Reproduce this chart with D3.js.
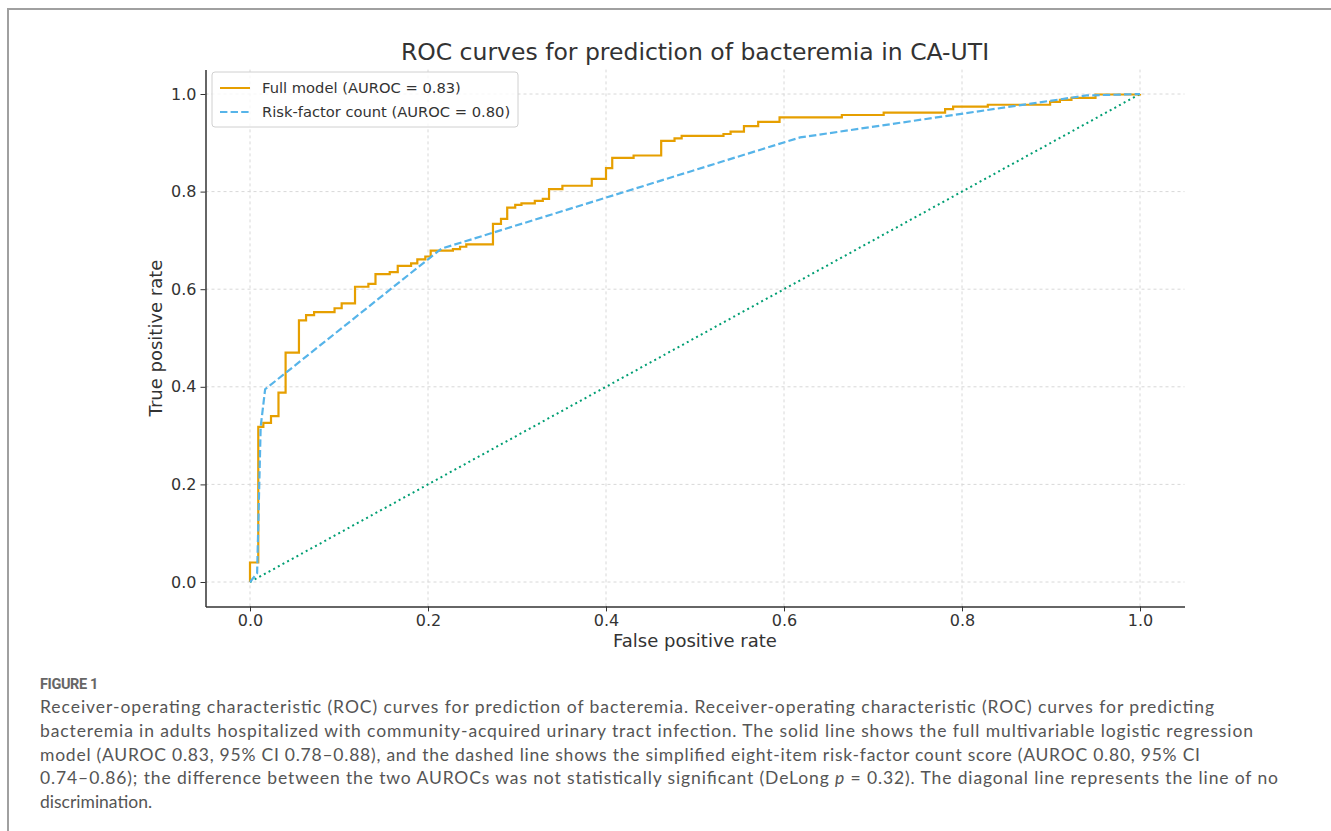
<!DOCTYPE html>
<html>
<head>
<meta charset="utf-8">
<script src="https://cdn.jsdelivr.net/npm/d3@7"></script>
<style>
  body { margin: 0; background: #fff; }
  svg { display: block; }
  .tick text { font-family: "DejaVu Sans", sans-serif; font-size: 16px; fill: #333; }
</style>
</head>
<body>
<svg id="chart"></svg>
<script>
// full model ROC: x where the curve rises, and tpr after the rise
let fullFpr = [0, 0, 0.0093, 0.015, 0.0236, 0.032, 0.040, 0.055, 0.063, 0.072, 0.095, 0.103, 0.118, 0.133, 0.141, 0.157, 0.166, 0.181, 0.188, 0.197, 0.203, 0.228, 0.236, 0.243, 0.273, 0.282, 0.289, 0.298, 0.305, 0.320, 0.329, 0.336, 0.351, 0.384, 0.400, 0.407, 0.431, 0.462, 0.477, 0.485, 0.532, 0.540, 0.555, 0.571, 0.595, 0.665, 0.712, 0.781, 0.790, 0.829, 0.899, 0.910, 0.923, 0.950, 1.0]
let fullTpr = [0, 0.040, 0.318, 0.326, 0.340, 0.388, 0.470, 0.536, 0.547, 0.553, 0.561, 0.571, 0.605, 0.611, 0.631, 0.635, 0.648, 0.653, 0.661, 0.667, 0.679, 0.682, 0.687, 0.692, 0.734, 0.744, 0.767, 0.773, 0.776, 0.781, 0.785, 0.805, 0.812, 0.826, 0.848, 0.869, 0.874, 0.904, 0.909, 0.914, 0.918, 0.923, 0.934, 0.943, 0.952, 0.957, 0.962, 0.969, 0.974, 0.978, 0.984, 0.988, 0.992, 0.999, 1.0]

// risk-factor count ROC points
let riskFpr = [0, 0.008, 0.012, 0.017, 0.215, 0.618, 0.94, 1.0]
let riskTpr = [0, 0.018, 0.318, 0.395, 0.683, 0.911, 0.997, 1.0]

let chanceLine = [0, 1]
let ticks = [0, 0.2, 0.4, 0.6, 0.8, 1.0]

let legendLabels = ["Full model (AUROC = 0.83)", "Risk-factor count (AUROC = 0.80)"]

let captionLines = [
    "Receiver-operating characteristic (ROC) curves for prediction of bacteremia. Receiver-operating characteristic (ROC) curves for predicting",
    "bacteremia in adults hospitalized with community-acquired urinary tract infection. The solid line shows the full multivariable logistic regression",
    "model (AUROC 0.83, 95% CI 0.78\u20130.88), and the dashed line shows the simplified eight-item risk-factor count score (AUROC 0.80, 95% CI",
    "0.74\u20130.86); the difference between the two AUROCs was not statistically significant (DeLong |p| = 0.32). The diagonal line represents the line of no",
    "discrimination."
]
let captionEnds = [1214, 1253, 1200, 1278, null]

let W = 1331, H = 831
let svg = d3.select("#chart").attr("width", W).attr("height", H)

// figure frame (only top + left visible)
svg.append("rect")
    .attr("x", 8).attr("y", 9)
    .attr("width", W + 20).attr("height", H + 20)
    .attr("fill", "none")
    .attr("stroke", "#a0a0a0")
    .attr("stroke-width", 2)

let xScale = d3.scaleLinear().domain([-0.05, 1.05]).range([205.5, 1184.5])
let yScale = d3.scaleLinear().domain([-0.05, 1.05]).range([606.4, 69.6])

// grid
let grid = svg.append("g")
grid.selectAll(".gx").data(ticks).enter().append("line")
    .attr("x1", d => xScale(d)).attr("x2", d => xScale(d))
    .attr("y1", yScale.range()[0]).attr("y2", yScale.range()[1])
    .attr("stroke", "#d8d8d8").attr("stroke-width", 1).attr("stroke-dasharray", "3,3")
grid.selectAll(".gy").data(ticks).enter().append("line")
    .attr("y1", d => yScale(d)).attr("y2", d => yScale(d))
    .attr("x1", xScale.range()[0]).attr("x2", xScale.range()[1])
    .attr("stroke", "#d8d8d8").attr("stroke-width", 1).attr("stroke-dasharray", "3,3")

// axes (no outer ticks, only left + bottom spines)
let xAxis = d3.axisBottom(xScale).tickValues(ticks).tickFormat(d3.format(".1f"))
    .tickSize(5).tickSizeOuter(0).tickPadding(3)
let yAxis = d3.axisLeft(yScale).tickValues(ticks).tickFormat(d3.format(".1f"))
    .tickSize(5).tickSizeOuter(0).tickPadding(4)

let gx = svg.append("g")
    .attr("transform", "translate(0," + yScale.range()[0] + ")")
    .call(xAxis)
let gy = svg.append("g")
    .attr("transform", "translate(" + xScale.range()[0] + ",0)")
    .call(yAxis)
gx.select(".domain").attr("stroke", "#333").attr("stroke-width", 1.5)
gy.select(".domain").attr("stroke", "#333").attr("stroke-width", 1.5)
gx.selectAll(".tick line").attr("stroke", "#333")
gy.selectAll(".tick line").attr("stroke", "#333")

svg.append("text")
    .attr("x", 695).attr("y", 647)
    .attr("text-anchor", "middle")
    .style("font-family", "DejaVu Sans").style("font-size", "18px").style("fill", "#333")
    .text("False positive rate")

svg.append("text")
    .attr("transform", "translate(162,338) rotate(-90)")
    .attr("text-anchor", "middle")
    .style("font-family", "DejaVu Sans").style("font-size", "18px").style("fill", "#333")
    .text("True positive rate")

svg.append("text")
    .attr("x", 695).attr("y", 60)
    .attr("text-anchor", "middle")
    .style("font-family", "DejaVu Sans").style("font-size", "23.5px").style("fill", "#333")
    .text("ROC curves for prediction of bacteremia in CA-UTI")

// curves
svg.append("path")
    .datum(chanceLine)
    .attr("d", d3.line().x(d => xScale(d)).y(d => yScale(d)))
    .attr("fill", "none")
    .attr("stroke", "#009E73")
    .attr("stroke-width", 2)
    .attr("stroke-dasharray", "2,3.3")

let fullData = fullFpr.map((f, i) => [f, fullTpr[i]])
svg.append("path")
    .datum(fullData)
    .attr("d", d3.line().x(d => xScale(d[0])).y(d => yScale(d[1])).curve(d3.curveStepAfter))
    .attr("fill", "none")
    .attr("stroke", "#E69F00")
    .attr("stroke-width", 2.2)

let riskData = riskFpr.map((f, i) => [f, riskTpr[i]])
svg.append("path")
    .datum(riskData)
    .attr("d", d3.line().x(d => xScale(d[0])).y(d => yScale(d[1])))
    .attr("fill", "none")
    .attr("stroke", "#56B4E9")
    .attr("stroke-width", 2.2)
    .attr("stroke-dasharray", "7.4,3.2")

// legend
let legend = svg.append("g").attr("transform", "translate(212,72)")
legend.append("rect")
    .attr("width", 306).attr("height", 55).attr("rx", 3)
    .attr("fill", "#fff").attr("fill-opacity", 0.8)
    .attr("stroke", "#d0d0d0")
let legendColors = ["#E69F00", "#56B4E9"]
let legendDash = [null, "7.4,3.2"]
legendLabels.forEach(function (lab, i) {
    let yy = 16 + i * 24
    legend.append("line")
        .attr("x1", 8).attr("x2", 38).attr("y1", yy).attr("y2", yy)
        .attr("stroke", legendColors[i]).attr("stroke-width", 2)
        .attr("stroke-dasharray", legendDash[i])
    legend.append("text")
        .attr("x", 50).attr("y", yy + 5)
        .style("font-family", "DejaVu Sans").style("font-size", "14.7px").style("fill", "#333")
        .text(lab)
})

// caption
svg.append("text")
    .attr("x", 40).attr("y", 689)
    .style("font-family", "Roboto").style("font-size", "14.5px").style("font-weight", "bold")
    .style("fill", "#666").style("letter-spacing", "-0.4px")
    .text("FIGURE 1")

captionLines.forEach(function (line, i) {
    let t = svg.append("text")
        .attr("x", 40).attr("y", 713 + i * 23.8)
        .style("font-family", "Lato").style("font-size", "17.5px").style("fill", "#555")
    if (captionEnds[i]) {
        t.attr("textLength", captionEnds[i] - 40).attr("lengthAdjust", "spacing")
    }
    line.split("|").forEach(function (part, j) {
        t.append("tspan").style("font-style", j === 1 ? "italic" : "normal").text(part)
    })
})
</script>
</body>
</html>
